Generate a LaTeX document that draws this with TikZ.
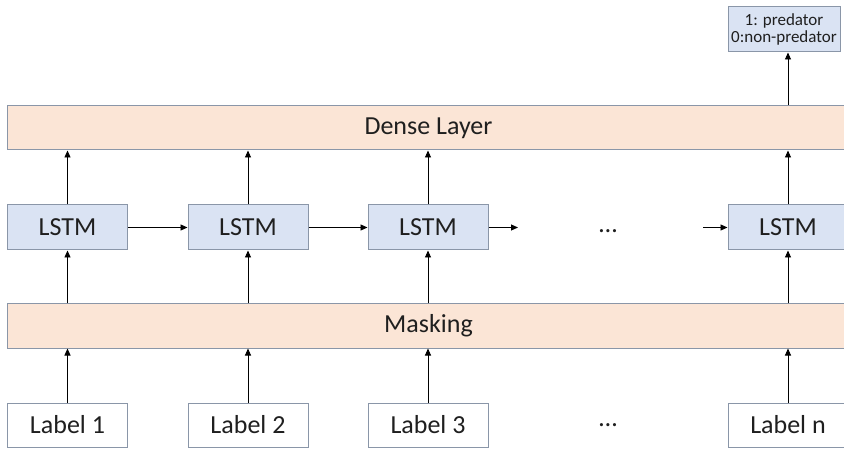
\documentclass[tikz,border=0pt]{standalone}
\usepackage{fontspec}
\setmainfont{Carlito}
\usetikzlibrary{arrows.meta}
\definecolor{peach}{HTML}{FBE5D6}
\definecolor{paleblue}{HTML}{DAE3F3}
\definecolor{edge}{HTML}{8A96A8}
\tikzset{
  base/.style={draw=edge, line width=1pt, inner sep=0pt, text=black!88, font=\fontsize{26}{30}\selectfont},
  layerbox/.style={base, fill=peach, minimum width=842pt, minimum height=44pt},
  lstmbox/.style={base, fill=paleblue, minimum width=120pt, minimum height=45pt},
  inbox/.style={base, fill=white, minimum width=120pt, minimum height=44pt},
  outbox/.style={base, fill=paleblue, minimum width=112pt, minimum height=45pt, align=center,
    font=\fontsize{17}{17.5}\selectfont},
  flow/.style={draw=black, line width=0.9pt, -{Triangle[length=7pt,width=6pt]}},
  dots/.style={font=\fontsize{26}{30}\selectfont, text=black!88}
}
\begin{document}
\begin{tikzpicture}[x=1pt,y=-1pt]
\useasboundingbox (0,0) rectangle (844,449);
\fill[white] (0,0) rectangle (844,449);

% layers spanning the whole width
\node[layerbox] (dense) at (428.5,128) {Dense Layer};
\node[layerbox] (mask) at (428.5,326) {Masking};

% recurrent cells
\node[lstmbox] (l1) at (67.5,227.5) {LSTM};
\node[lstmbox] (l2) at (248,227.5) {LSTM};
\node[lstmbox] (l3) at (428,227.5) {LSTM};
\node[lstmbox] (l4) at (788,227.5) {LSTM};
\node[dots] (cdots) at (608,231) {\dots};

% inputs
\node[inbox] (in1) at (67.5,425) {Label 1};
\node[inbox] (in2) at (248,425) {Label 2};
\node[inbox] (in3) at (428,425) {Label 3};
\node[inbox] (in4) at (788,425) {Label n};
\node[dots] (idots) at (608,425) {\dots};

% output
\node[outbox] (out) at (784,29.5) {1: predator\\0:non-predator};

% vertical flow
\foreach \i in {1,2,3,4}{
  \draw[flow] (in\i.north) -- (in\i.north |- mask.south);
  \draw[flow] (l\i.south |- mask.north) -- (l\i.south);
  \draw[flow] (l\i.north) -- (l\i.north |- dense.south);
}
\draw[flow] (l4.north |- dense.north) -- (l4.north |- out.south);

% horizontal recurrence
\coordinate (r3) at (518,227.5);
\coordinate (r4) at (703,227.5);
\draw[flow] (l1.east) -- (l2.west);
\draw[flow] (l2.east) -- (l3.west);
\draw[flow] (l3.east) -- (r3);
\draw[flow] (r4) -- (l4.west);
\end{tikzpicture}
\end{document}
